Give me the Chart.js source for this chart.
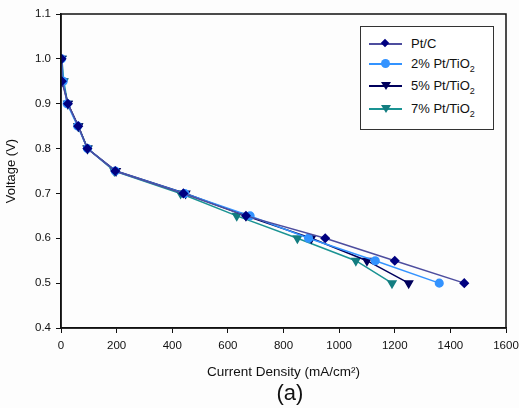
<!DOCTYPE html>
<html lang="en">
<head>
<meta charset="UTF-8">
<title>Polarization curves</title>
<script src="https://cdn.jsdelivr.net/npm/chart.js@4.4.0/dist/chart.umd.min.js"></script>
<style>
    body { margin: 0; background: #fdfdfd; }
    #wrap { position: relative; width: 519px; height: 408px; }
    #legendBox {
        position: absolute; left: 360px; top: 26px; width: 132px; height: 102px;
        border: 1px solid #333; background: #fff;
        font-family: "Liberation Sans", Arial, sans-serif; font-size: 13px; color: #111;
    }
    .row { position: absolute; left: 8px; height: 15px; }
    .row .ln { position: absolute; left: 0; top: 7px; width: 33px; height: 2px; }
    .row .mk { position: absolute; left: 12px; }
    .row .tx { position: absolute; left: 42px; top: 0; white-space: nowrap; }
    sub { font-size: 9px; }
    #panel {
        position: absolute; left: 274px; top: 380px; width: 32px; text-align: center;
        font-family: "Liberation Sans", Arial, sans-serif; font-size: 22px; color: #111;
    }
</style>
</head>
<body>
<div id="wrap">
    <canvas id="c" width="519" height="408"></canvas>
    <div id="legendBox"></div>
    <div id="panel">(a)</div>
</div>
<script>
    // voltage levels shared by all samples
    const voltage = [1.0, 0.95, 0.9, 0.85, 0.8, 0.75, 0.7, 0.65, 0.6, 0.55, 0.5];
    const ptC   = [2, 3, 25, 62, 95, 195, 440, 665, 950, 1200, 1450];
    const pt2   = [2, 8, 22, 60, 95, 195, 445, 680, 890, 1130, 1360];
    const pt5   = [2, 5, 25, 62, 95, 198, 448, 665, 900, 1100, 1250];
    const pt7   = [3, 10, 24, 62, 96, 192, 430, 632, 850, 1060, 1190];
    const xTicks = [0, 200, 400, 600, 800, 1000, 1200, 1400, 1600];
    const yTicks = [0.4, 0.5, 0.6, 0.7, 0.8, 0.9, 1.0, 1.1];

    const series = [
        { label: 'Pt/C', html: 'Pt/C', x: ptC, line: '#4d4d9e', mark: '#000080', style: 'rectRot', r: 4, rot: 0 },
        { label: '2% Pt/TiO₂', html: '2% Pt/TiO<sub>2</sub>', x: pt2, line: '#3393ff', mark: '#3393ff', style: 'circle', r: 3.8, rot: 0 },
        { label: '5% Pt/TiO₂', html: '5% Pt/TiO<sub>2</sub>', x: pt5, line: '#00005c', mark: '#00005c', style: 'triangle', r: 4.5, rot: 180 },
        { label: '7% Pt/TiO₂', html: '7% Pt/TiO<sub>2</sub>', x: pt7, line: '#1a9393', mark: '#137d80', style: 'triangle', r: 4.5, rot: 180 }
    ];

    const FONT = '"Liberation Sans", Arial, sans-serif';

    const frame = {
        id: 'frame',
        afterDraw(chart) {
            const a = chart.chartArea, ctx = chart.ctx;
            ctx.save();
            ctx.strokeStyle = '#111';
            ctx.lineWidth = 1.5;
            ctx.strokeRect(a.left, a.top, a.right - a.left, a.bottom - a.top);
            ctx.restore();
        }
    };

    new Chart(document.getElementById('c'), {
        type: 'line',
        data: {
            datasets: series.map(s => ({
                label: s.label,
                data: s.x.map((x, i) => ({ x: x, y: voltage[i] })),
                borderColor: s.line,
                borderWidth: 1.5,
                backgroundColor: s.mark,
                pointBackgroundColor: s.mark,
                pointBorderColor: s.mark,
                pointStyle: s.style,
                pointRadius: s.r,
                pointRotation: s.rot,
                tension: 0
            }))
        },
        options: {
            responsive: false,
            animation: false,
            layout: { padding: { left: 4, right: 0, top: 14, bottom: 25 } },
            plugins: {
                legend: { display: false },
                tooltip: { enabled: false }
            },
            scales: {
                x: {
                    type: 'linear', min: 0, max: 1600,
                    afterBuildTicks: s => { s.ticks = xTicks.map(v => ({ value: v })); },
                    afterFit: s => { s.paddingRight = 13; },
                    grid: { drawOnChartArea: false, drawTicks: true, tickLength: 5, color: '#111' },
                    border: { color: '#111', width: 1.5 },
                    ticks: {
                        color: '#111', font: { family: FONT, size: 11.5 }, padding: 6, maxRotation: 0,
                        callback: v => String(v)
                    },
                    title: {
                        display: true, text: 'Current Density (mA/cm²)',
                        color: '#111', font: { family: FONT, size: 13.5 }, padding: { top: 5, bottom: 3 }
                    }
                },
                y: {
                    type: 'linear', min: 0.4, max: 1.1,
                    afterBuildTicks: s => { s.ticks = yTicks.map(v => ({ value: v })); },
                    afterFit: s => { s.width = 57; },
                    grid: { drawOnChartArea: false, drawTicks: true, tickLength: 5, color: '#111' },
                    border: { color: '#111', width: 1.5 },
                    ticks: {
                        color: '#111', font: { family: FONT, size: 11.5 }, padding: 5,
                        callback: v => v.toFixed(1)
                    },
                    title: {
                        display: true, text: 'Voltage (V)',
                        color: '#111', font: { family: FONT, size: 13 }, padding: { top: 0, bottom: 3 }
                    }
                }
            }
        },
        plugins: [frame]
    });

    // legend drawn as html so the subscripts stay real text
    const box = document.getElementById('legendBox');
    const rowTops = [9, 29, 51, 74];
    series.forEach((s, i) => {
        const row = document.createElement('div');
        row.className = 'row';
        row.style.top = rowTops[i] + 'px';
        let mk;
        if (s.style === 'triangle') {
            mk = '<div class="mk" style="top:4px;width:0;height:0;border-left:5px solid transparent;border-right:5px solid transparent;border-top:8px solid ' + s.mark + '"></div>';
        } else if (s.style === 'rectRot') {
            mk = '<div class="mk" style="left:13px;top:4px;width:6px;height:6px;transform:rotate(45deg);background:' + s.mark + '"></div>';
        } else {
            mk = '<div class="mk" style="top:3px;width:9px;height:9px;border-radius:50%;background:' + s.mark + '"></div>';
        }
        row.innerHTML = '<div class="ln" style="background:' + s.line + '"></div>' + mk +
            '<div class="tx">' + s.html + '</div>';
        box.appendChild(row);
    });
</script>
</body>
</html>
